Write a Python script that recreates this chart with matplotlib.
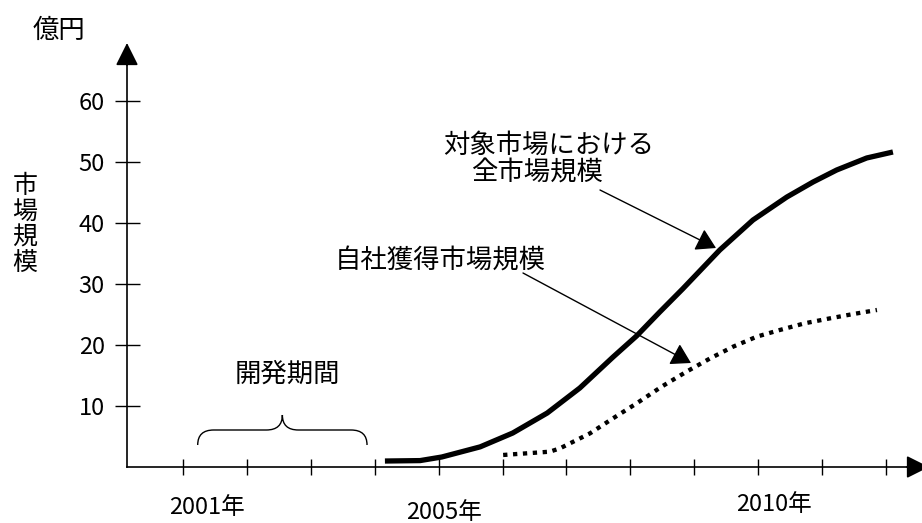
import matplotlib
matplotlib.use("Agg")
import matplotlib.pyplot as plt
from matplotlib.path import Path
from matplotlib.patches import PathPatch

plt.rcParams['font.family'] = ['Noto Sans CJK JP', 'DejaVu Sans']

# ---- data ----
total_years = [2004.16, 2004.71, 2005.05, 2005.65, 2006.16, 2006.70, 2007.21, 2007.73,
               2008.10, 2008.46, 2008.82, 2009.40, 2009.92, 2010.45, 2010.86, 2011.23,
               2011.70, 2012.11]
total_values = [0.98, 1.05, 1.64, 3.3, 5.57, 8.85, 12.95, 18.03,
                21.5, 25.4, 29.2, 35.57, 40.49, 44.26, 46.72, 48.69,
                50.66, 51.64]

own_years = [2006.01, 2006.74, 2006.90, 2007.37, 2007.73, 2008.10, 2008.49, 2008.88,
             2009.25, 2009.61, 2009.98, 2010.34, 2010.73, 2011.13, 2011.49, 2011.86]
own_values = [1.97, 2.51, 3.06, 5.52, 7.98, 10.44, 13.17, 15.63,
              17.81, 19.73, 21.37, 22.46, 23.56, 24.38, 25.08, 25.74]

y_ticks = [10, 20, 30, 40, 50, 60]
x_ticks = list(range(2001, 2013))
x_labels = {2001: "2001年", 2005: "2005年", 2010: "2010年"}
dev_period = (2001.23, 2003.88)

label_total = "対象市場における\n全市場規模"
label_own = "自社獲得市場規模"
label_dev = "開発期間"
unit_label = "億円"
y_title = "市\n場\n規\n模"

# ---- figure ----
W, H = 922, 523
fig = plt.figure(figsize=(W / 100, H / 100), dpi=100)
ax = fig.add_axes([0, 0, 1, 1])
px_per_year = 63.9
px_per_unit = 6.1
x0_px, y0_px = 183, 467
ax.set_xlim(2001 - x0_px / px_per_year, 2001 + (W - x0_px) / px_per_year)
ax.set_ylim(-(H - y0_px) / px_per_unit, y0_px / px_per_unit)


def d(px, py):
    """pixel position -> data coordinates (layout helper for annotations)"""
    return (2001 + (px - x0_px) / px_per_year, (y0_px - py) / px_per_unit)


y_axis_x = d(127, 0)[0]
x_end = d(910, 0)[0]
y_end = d(0, 62)[1]

for s in ['top', 'right']:
    ax.spines[s].set_visible(False)
ax.spines['left'].set_position(('data', y_axis_x))
ax.spines['bottom'].set_position(('data', 0))
ax.spines['left'].set_bounds(0, y_end)
ax.spines['bottom'].set_bounds(y_axis_x, x_end)
ax.spines['left'].set_linewidth(1.2)
ax.spines['bottom'].set_linewidth(1.2)

ax.set_yticks(y_ticks)
ax.set_yticklabels([str(v) for v in y_ticks])
ax.tick_params(axis='y', direction='inout', length=18, width=1.0, pad=7, labelsize=17)
ax.set_xticks(x_ticks)
ax.set_xticklabels([])
ax.tick_params(axis='x', direction='inout', length=12, width=1.0)

# axis arrowheads
head = dict(arrowstyle='-|>,head_length=1.0,head_width=0.5', mutation_scale=14,
            color='black', lw=1.2, shrinkA=0, shrinkB=0)
ax.annotate('', xy=(y_axis_x, d(0, 43)[1]), xytext=(y_axis_x, y_end - 0.5),
            arrowprops=head, annotation_clip=False)
ax.annotate('', xy=(d(929, 0)[0], 0), xytext=(x_end - 0.05, 0),
            arrowprops=head, annotation_clip=False)

# series
ax.plot(total_years, total_values, color='black', lw=3.8, solid_capstyle='butt',
        solid_joinstyle='round')
ax.plot(own_years, own_values, color='black', lw=3.1, linestyle=(0, (1.0, 1.3)),
        dash_capstyle='butt')

# x labels
offsets = {2001: 0.37, 2005: 0.09, 2010: 0.25}
yoffs = {2001: -6.7, 2005: -7.5, 2010: -6.2}
for yr, lab in x_labels.items():
    ax.text(yr + offsets[yr], yoffs[yr], lab, ha='center', va='center', fontsize=17)

# annotations
arr = dict(arrowstyle='-|>,head_length=1.0,head_width=0.6', mutation_scale=12,
           color='black', lw=1.0, shrinkA=0, shrinkB=0)
ax.annotate('', xy=d(716, 248), xytext=d(600, 190), arrowprops=arr)
ax.annotate('', xy=d(691, 363), xytext=d(523, 273), arrowprops=arr)

ax.text(*d(549, 145), label_total.split("\n")[0], ha='center', va='center', fontsize=19)
ax.text(*d(537, 173), label_total.split("\n")[1], ha='center', va='center', fontsize=19)
ax.text(*d(440, 261), label_own, ha='center', va='center', fontsize=19)
ax.text(*d(287, 374), label_dev, ha='center', va='center', fontsize=19)
ax.text(*d(59, 30), unit_label, ha='center', va='center', fontsize=19)
ax.text(*d(25, 225), y_title, ha='center', va='center', fontsize=18, linespacing=1.0)

# brace for development period
xa, xb = dev_period
xm = (xa + xb) / 2
yb, yf, yp = d(0, 445)[1], d(0, 430)[1], d(0, 415)[1]
r = 0.25
verts = [(xa, yb), (xa, yf), (xa + r, yf), (xm - r, yf), (xm, yf), (xm, yp),
         (xm, yf), (xm + r, yf), (xb - r, yf), (xb, yf), (xb, yb)]
codes = [Path.MOVETO, Path.CURVE3, Path.CURVE3, Path.LINETO, Path.CURVE3, Path.CURVE3,
         Path.CURVE3, Path.CURVE3, Path.LINETO, Path.CURVE3, Path.CURVE3]
ax.add_patch(PathPatch(Path(verts, codes), fill=False, lw=1.0, color='black'))

fig.savefig('out.png', dpi=100)
